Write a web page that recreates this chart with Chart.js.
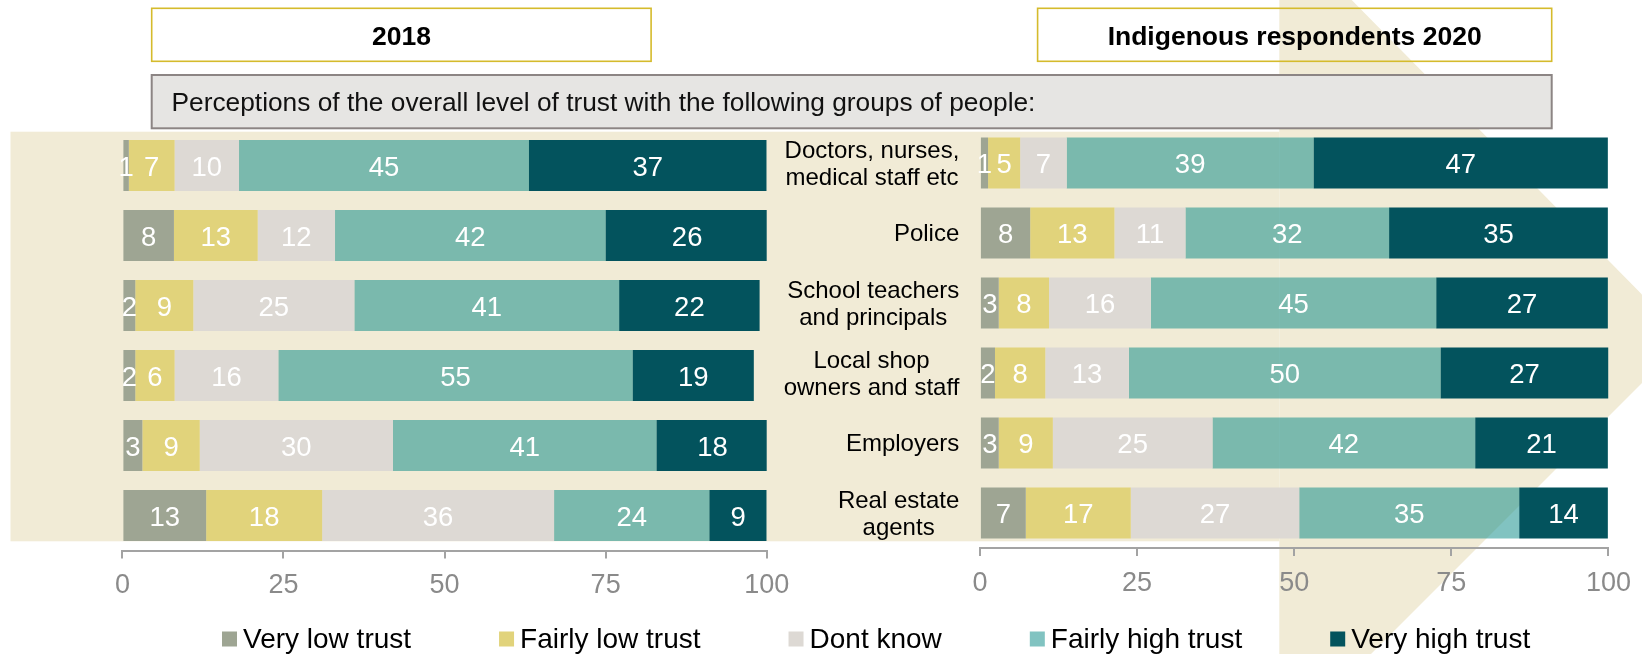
<!DOCTYPE html>
<html>
<head>
<meta charset="utf-8">
<script src="https://cdn.jsdelivr.net/npm/chart.js@4.4.1/dist/chart.umd.min.js"></script>
<style>
html,body{margin:0;padding:0;background:#ffffff;overflow:hidden}
#wrap{position:relative;width:1642px;height:654px}
#wrap canvas{position:absolute;left:0;top:0}
</style>
</head>
<body>
<div id="wrap">
<canvas id="c2018" width="1642" height="654"></canvas>
<canvas id="c2020" width="1642" height="654"></canvas>
</div>
<script>
// ---------- data ----------
const categories = [
  ['Doctors, nurses,', 'medical staff etc'],
  'Police',
  ['School teachers', 'and principals'],
  ['Local shop', 'owners and staff'],
  'Employers',
  ['Real estate', 'agents']
];
const seriesNames = ['Very low trust', 'Fairly low trust', 'Dont know', 'Fairly high trust', 'Very high trust'];
const seriesColors = ['#9ea593', '#e1d37b', '#ddd9d4', 'rgba(3,136,131,0.5)', '#03535d'];

// 2018 (bar lengths)
const veryLow2018    = [1.0, 8.0, 2.0, 2.0, 3.1, 13.0];
const fairlyLow2018  = [7.1, 13.0, 9.0, 6.1, 8.9, 18.0];
const dontKnow2018   = [10.0, 12.0, 25.0, 16.1, 30.0, 36.0];
const fairlyHigh2018 = [45.0, 42.0, 41.1, 55.0, 40.9, 24.1];
const veryHigh2018   = [36.9, 25.3, 21.8, 18.8, 17.4, 8.9];
// 2018 printed labels
const veryLowLbl2018    = [1, 8, 2, 2, 3, 13];
const fairlyLowLbl2018  = [7, 13, 9, 6, 9, 18];
const dontKnowLbl2018   = [10, 12, 25, 16, 30, 36];
const fairlyHighLbl2018 = [45, 42, 41, 55, 41, 24];
const veryHighLbl2018   = [37, 26, 22, 19, 18, 9];

// Indigenous respondents 2020
const veryLow2020    = [1.3, 8.0, 3.0, 2.4, 3.0, 7.3];
const fairlyLow2020  = [5.1, 13.4, 8.0, 8.0, 8.6, 16.7];
const dontKnow2020   = [7.4, 11.3, 16.2, 13.3, 25.4, 26.8];
const fairlyHigh2020 = [39.3, 32.4, 45.4, 49.6, 41.8, 35.0];
const veryHigh2020   = [46.8, 34.8, 27.3, 26.7, 21.1, 14.1];
const veryLowLbl2020    = [1, 8, 3, 2, 3, 7];
const fairlyLowLbl2020  = [5, 13, 8, 8, 9, 17];
const dontKnowLbl2020   = [7, 11, 16, 13, 25, 27];
const fairlyHighLbl2020 = [39, 32, 45, 50, 42, 35];
const veryHighLbl2020   = [47, 35, 27, 27, 21, 14];

const xTickValues = [0, 25, 50, 75, 100];
const titleLeft = '2018';
const titleRight = 'Indigenous respondents 2020';
const subtitle = 'Perceptions of the overall level of trust with the following groups of people:';

// ---------- styling ----------
const FONT = "'Liberation Sans', Arial, Helvetica, sans-serif";
Chart.defaults.font.family = FONT;
const BEIGE = '#f1ebd6';
const AXIS = '#a3a3a3';
const TICKTXT = '#8a8a8a';

function makeDatasets(vals, lbls) {
  return vals.map((v, i) => ({
    label: seriesNames[i],
    data: v,
    printed: lbls[i],
    backgroundColor: seriesColors[i],
    borderWidth: 0,
    barPercentage: 0.73,
    categoryPercentage: 1.0
  }));
}

const barLabelPlugin = {
  id: 'barLabels',
  afterDatasetsDraw(chart) {
    const ctx = chart.ctx;
    ctx.save();
    ctx.fillStyle = '#ffffff';
    ctx.font = '27.5px ' + FONT;
    ctx.textAlign = 'center';
    ctx.textBaseline = 'alphabetic';
    chart.data.datasets.forEach((ds, i) => {
      const meta = chart.getDatasetMeta(i);
      meta.data.forEach((bar, j) => {
        const p = bar.getCenterPoint();
        ctx.fillText(String(ds.printed[j]), p.x, p.y + 10);
      });
    });
    ctx.restore();
  }
};

const backgroundPlugin = {
  id: 'bgDecor',
  beforeDraw(chart) {
    const ctx = chart.ctx;
    ctx.save();
    ctx.fillStyle = BEIGE;
    // horizontal band
    ctx.fillRect(10.5, 131.7, 1279.3 - 10.5, 541.3 - 131.7);
    // chevron
    ctx.beginPath();
    ctx.moveTo(1279.3, 0);
    ctx.lineTo(1351.7, 0);
    ctx.lineTo(1686, 339);
    ctx.lineTo(1371, 654);
    ctx.lineTo(1279.3, 654);
    ctx.closePath();
    ctx.fill();

    // title boxes
    ctx.strokeStyle = '#d5bb2c';
    ctx.lineWidth = 1.6;
    ctx.strokeRect(151.7, 8.3, 651.1 - 151.7, 53);
    ctx.strokeRect(1037.6, 8.3, 1551.7 - 1037.6, 53);
    ctx.fillStyle = '#000000';
    ctx.font = 'bold 26.5px ' + FONT;
    ctx.textAlign = 'center';
    ctx.textBaseline = 'alphabetic';
    ctx.fillText(titleLeft, (151.7 + 651.1) / 2, 45);
    ctx.fillText(titleRight, (1037.6 + 1551.7) / 2, 45);

    // subtitle box
    ctx.fillStyle = '#e6e5e3';
    ctx.fillRect(151.7, 75, 1551.7 - 151.7, 53.3);
    ctx.strokeStyle = '#8c8584';
    ctx.lineWidth = 2;
    ctx.strokeRect(151.7, 75, 1551.7 - 151.7, 53.3);
    ctx.fillStyle = '#111111';
    ctx.font = '26.3px ' + FONT;
    ctx.textAlign = 'left';
    ctx.fillText(subtitle, 171.5, 110.7);
    ctx.restore();
  }
};

const categoryLabelPlugin = {
  id: 'catLabels',
  afterDraw(chart) {
    const ctx = chart.ctx;
    const yScale = chart.scales.y;
    const rightX = chart.chartArea.left - 20.6;
    ctx.save();
    ctx.fillStyle = '#000000';
    ctx.font = '24px ' + FONT;
    ctx.textAlign = 'center';
    ctx.textBaseline = 'alphabetic';
    const spacing = 27.4;
    chart.data.labels.forEach((lab, j) => {
      const lines = Array.isArray(lab) ? lab : [lab];
      const maxW = Math.max(...lines.map(l => ctx.measureText(l).width));
      const cx = rightX - maxW / 2;
      const cy = yScale.getPixelForValue(j);
      const n = lines.length;
      lines.forEach((l, k) => {
        const by = cy + 8.2 + (k - (n - 1) / 2) * spacing;
        ctx.fillText(l, cx, by);
      });
    });
    ctx.restore();
  }
};

const legendPlugin = {
  id: 'bottomLegend',
  afterDraw(chart) {
    const ctx = chart.ctx;
    ctx.save();
    ctx.font = '28px ' + FONT;
    ctx.textAlign = 'left';
    ctx.textBaseline = 'alphabetic';
    let x = 222;
    chart.data.datasets.forEach(ds => {
      ctx.fillStyle = ds.backgroundColor;
      ctx.fillRect(x, 631.5, 15, 15);
      ctx.fillStyle = '#000000';
      ctx.fillText(ds.label, x + 21, 648);
      x += 21 + ctx.measureText(ds.label).width + 88;
    });
    ctx.restore();
  }
};

function xScaleOptions() {
  return {
    stacked: true,
    min: 0,
    max: 100,
    afterBuildTicks(scale) { scale.ticks = xTickValues.map(v => ({ value: v })); },
    ticks: { color: TICKTXT, font: { size: 27, family: FONT }, padding: 11, maxRotation: 0 },
    grid: { drawOnChartArea: false, drawTicks: true, tickLength: 8, color: AXIS, lineWidth: 2 },
    border: { display: true, color: AXIS, width: 2 },
    afterFit(scale) { scale.height = 60; }
  };
}

const vals2018 = [veryLow2018, fairlyLow2018, dontKnow2018, fairlyHigh2018, veryHigh2018];
const lbls2018 = [veryLowLbl2018, fairlyLowLbl2018, dontKnowLbl2018, fairlyHighLbl2018, veryHighLbl2018];
const vals2020 = [veryLow2020, fairlyLow2020, dontKnow2020, fairlyHigh2020, veryHigh2020];
const lbls2020 = [veryLowLbl2020, fairlyLowLbl2020, dontKnowLbl2020, fairlyHighLbl2020, veryHighLbl2020];

new Chart(document.getElementById('c2018'), {
  type: 'bar',
  data: { labels: categories, datasets: makeDatasets(vals2018, lbls2018) },
  options: {
    indexAxis: 'y',
    responsive: false,
    animation: false,
    devicePixelRatio: 1,
    layout: { padding: { left: 122.4, right: 1642 - 766.7, top: 130.5, bottom: 654 - 550.5 - 60 } },
    plugins: { legend: { display: false }, tooltip: { enabled: false } },
    scales: {
      x: xScaleOptions(),
      y: { stacked: true, display: false }
    }
  },
  plugins: [backgroundPlugin, barLabelPlugin]
});

new Chart(document.getElementById('c2020'), {
  type: 'bar',
  data: { labels: categories, datasets: makeDatasets(vals2020, lbls2020) },
  options: {
    indexAxis: 'y',
    responsive: false,
    animation: false,
    devicePixelRatio: 1,
    layout: { padding: { left: 979.9, right: 1642 - 1609, top: 128, bottom: 654 - 548 - 60 } },
    plugins: { legend: { display: false }, tooltip: { enabled: false } },
    scales: {
      x: xScaleOptions(),
      y: { stacked: true, display: false }
    }
  },
  plugins: [barLabelPlugin, categoryLabelPlugin, legendPlugin]
});
</script>
</body>
</html>
